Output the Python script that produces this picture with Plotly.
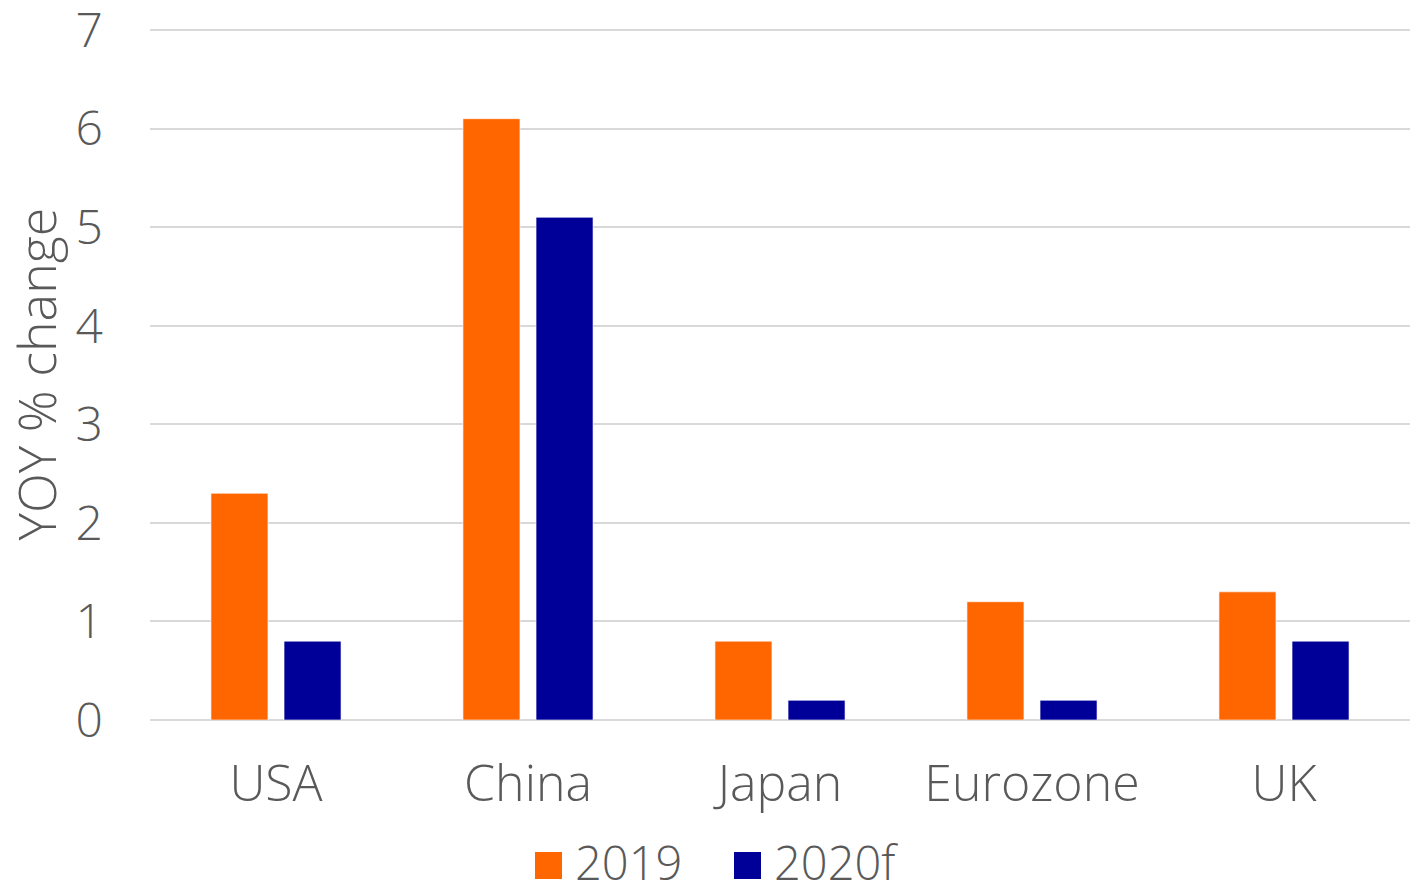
import plotly.graph_objects as go

categories = ["USA", "China", "Japan", "Eurozone", "UK"]
values_2019 = [2.3, 6.1, 0.8, 1.2, 1.3]
values_2020f = [0.8, 5.1, 0.2, 0.2, 0.8]
series_names = ["2019", "2020f"]
colors = ["#FF6600", "#000099"]
y_ticks = [0, 1, 2, 3, 4, 5, 6, 7]

FONT = "'Open Sans', sans-serif"
GRAY = "#595959"
W, H = 1410, 888
L, T, B = 150, 28, 168
PW, PH = W - L, H - T - B

fig = go.Figure()
for name, vals, col in zip(series_names, [values_2019, values_2020f], colors):
    fig.add_trace(go.Bar(
        x=categories, y=vals, name=name, showlegend=False,
        marker=dict(color=col, line=dict(color="rgba(255,255,255,0.6)", width=1)),
    ))

# custom legend (large square swatches + labels)
legend_px = [535, 734]
for px, name, col in zip(legend_px, series_names, colors):
    fig.add_shape(type="rect", xref="paper", yref="paper",
                  x0=(px - L) / PW, x1=(px - L + 27) / PW,
                  y0=(H - B - 879) / PH, y1=(H - B - 852) / PH,
                  fillcolor=col, line=dict(width=0))
    fig.add_annotation(xref="paper", yref="paper",
                       x=(px - L + 38) / PW, y=(H - B - 862) / PH,
                       xanchor="left", yanchor="middle", showarrow=False,
                       text=name, font=dict(size=47, color=GRAY, family=FONT, weight=300))

fig.update_layout(
    width=W, height=H,
    margin=dict(l=L, r=0, t=T, b=B, autoexpand=False),
    paper_bgcolor="white", plot_bgcolor="white",
    barmode="group", bargap=0.42, bargroupgap=0.22,
    font=dict(family=FONT, color=GRAY, size=46, weight=300),
    showlegend=False,
    xaxis=dict(showline=False, showgrid=False, ticks="",
               tickfont=dict(size=50, color=GRAY, weight=300),
               ticklabelstandoff=30),
    yaxis=dict(range=[0, 7.02], tickvals=y_ticks, showgrid=True, gridcolor="#D9D9D9", gridwidth=2,
               zeroline=True, zerolinecolor="#D9D9D9", zerolinewidth=2,
               showline=False, ticks="", tickfont=dict(size=48, color=GRAY, weight=300),
               ticklabelstandoff=46, ticklabeloverflow="allow",
               title=dict(text="YOY % change", font=dict(size=52, color=GRAY, weight=300), standoff=2)),
)

fig.write_html("out.html")
